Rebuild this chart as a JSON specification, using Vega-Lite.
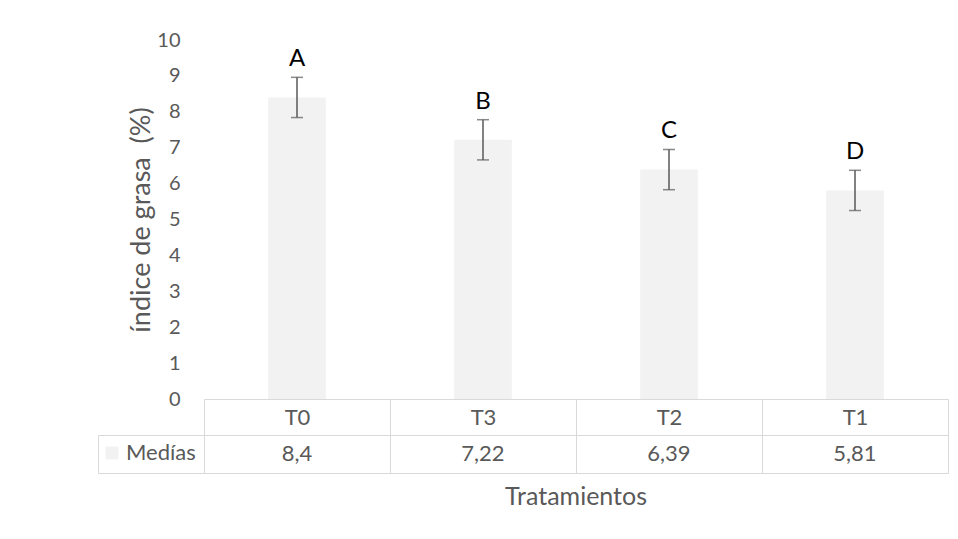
{
  "$schema": "https://vega.github.io/schema/vega-lite/v6.json",
  "padding": {"left": 97, "top": 30, "right": 5, "bottom": 5},
  "background": "white",
  "config": {
    "font": "Lato",
    "locale": {"number": {"decimal": ",", "thousands": ".", "grouping": [3], "currency": ["", " €"]}},
    "view": {"stroke": null}
  },
  "data": {"values": [
    {"trat": "T0", "media": 8.4, "lo": 7.84, "hi": 8.96, "letra": "A"},
    {"trat": "T3", "media": 7.22, "lo": 6.66, "hi": 7.78, "letra": "B"},
    {"trat": "T2", "media": 6.39, "lo": 5.83, "hi": 6.95, "letra": "C"},
    {"trat": "T1", "media": 5.81, "lo": 5.25, "hi": 6.37, "letra": "D"}
  ]},
  "spacing": -11,
  "resolve": {"scale": {"x": "independent", "y": "independent"}},
  "vconcat": [
    {
      "width": 744,
      "height": 359,
      "encoding": {
        "x": {"field": "trat", "type": "nominal", "sort": null,
          "scale": {"paddingInner": 0.69, "paddingOuter": 0.345},
          "axis": {"labels": false, "ticks": false, "title": null, "domainColor": "#d9d9d9", "domainWidth": 1}}
      },
      "layer": [
        {
          "mark": {"type": "bar"},
          "encoding": {
            "y": {"field": "media", "type": "quantitative",
              "scale": {"domain": [0, 10], "nice": false},
              "axis": {"values": [0,1,2,3,4,5,6,7,8,9,10], "grid": false, "domain": false, "ticks": false,
                "labelFontSize": 20, "labelColor": "#595959", "labelPadding": 24,
                "title": "índice de grasa \u00a0(%)", "titleFontSize": 27, "titleColor": "#595959",
                "titleFontWeight": "normal", "titlePadding": 1}},
            "color": {"datum": "Medías", "type": "nominal", "scale": {"range": ["#f2f2f2"]},
              "legend": {"orient": "none", "legendX": -103, "legendY": 402, "title": null,
                "symbolType": "square", "symbolSize": 169, "symbolStrokeWidth": 0,
                "labelFontSize": 22, "labelColor": "#595959", "labelOffset": 3}}
          }
        },
        {
          "mark": {"type": "errorbar", "color": "#595959", "thickness": 1.5,
            "ticks": {"size": 12, "thickness": 1.5, "color": "#595959"}},
          "encoding": {
            "y": {"field": "lo", "type": "quantitative",
              "axis": {"values": [0,1,2,3,4,5,6,7,8,9,10], "grid": false, "domain": false, "ticks": false,
                "labelFontSize": 20, "labelColor": "#595959", "labelPadding": 24,
                "title": "índice de grasa \u00a0(%)", "titleFontSize": 27, "titleColor": "#595959",
                "titleFontWeight": "normal", "titlePadding": 1}},
            "y2": {"field": "hi"}
          }
        },
        {
          "mark": {"type": "text", "baseline": "alphabetic", "dy": -11, "fontSize": 24, "color": "black"},
          "encoding": {
            "y": {"field": "hi", "type": "quantitative",
              "axis": {"values": [0,1,2,3,4,5,6,7,8,9,10], "grid": false, "domain": false, "ticks": false,
                "labelFontSize": 20, "labelColor": "#595959", "labelPadding": 24,
                "title": "índice de grasa \u00a0(%)", "titleFontSize": 27, "titleColor": "#595959",
                "titleFontWeight": "normal", "titlePadding": 1}},
            "text": {"field": "letra"}
          }
        }
      ]
    },
    {
      "width": 744,
      "height": 38,
      "view": {"stroke": "#d9d9d9"},
      "title": {"text": "Tratamientos", "orient": "bottom", "frame": "group", "fontSize": 25,
        "color": "#595959", "fontWeight": "normal", "offset": 11},
      "mark": {"type": "text", "fontSize": 22, "color": "#595959"},
      "encoding": {
        "x": {"field": "trat", "type": "nominal", "sort": null,
          "scale": {"paddingInner": 0, "paddingOuter": 0},
          "axis": {"orient": "top", "title": null, "labelAngle": 0, "tickBand": "extent", "tickSize": 36,
            "tickColor": "#d9d9d9", "domainColor": "#d9d9d9", "labelBaseline": "middle", "labelPadding": -18,
            "labelFontSize": 22, "labelColor": "#595959",
            "grid": true, "gridColor": "#d9d9d9"}},
        "y": {"datum": "Medías", "type": "nominal",
          "scale": {"type": "band", "paddingInner": 0, "paddingOuter": 0},
          "axis": {"orient": "left", "offset": 106, "labels": false, "title": null, "tickBand": "extent",
            "tickSize": -106, "tickColor": "#d9d9d9", "domainColor": "#d9d9d9", "grid": false}},
        "text": {"field": "media", "type": "quantitative", "format": ".3~g"}
      }
    }
  ]
}
